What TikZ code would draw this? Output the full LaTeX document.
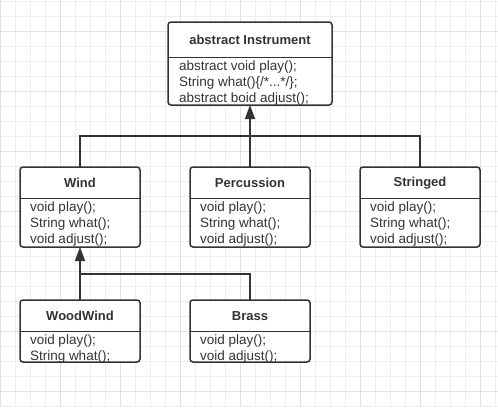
\documentclass[tikz,border=0pt]{standalone}
\usepackage{fontspec}
\setmainfont{Liberation Sans}
\usetikzlibrary{positioning,arrows.meta}
\definecolor{ink}{HTML}{333333}
\definecolor{gridminor}{HTML}{EEEEEE}
\definecolor{gridmajor}{HTML}{E2E2E2}

\begin{document}
\begin{tikzpicture}[x=1pt,y=-1pt,
  box/.style={draw=ink, line width=1.5pt, rounded corners=3pt, outer sep=0pt, fill=white},
  title/.style={font=\bfseries\fontsize{13}{16}\selectfont, text=ink, inner sep=0pt, minimum height=31pt},
  members/.style={font=\fontsize{13.5}{16}\selectfont, text=ink, align=left, inner sep=0pt},
  link/.style={draw=ink, line width=1.5pt},
  extends/.style={link, -{Triangle[length=14pt, width=10pt]}}]
\useasboundingbox (0,0) rectangle (498,407);
\fill[white] (0,0) rectangle (498,407);
% background grid
\foreach \x in {0.5,15.5,...,498} \draw[gridminor, line width=0.8pt] (\x,0) -- (\x,407);
\foreach \y in {1,16,...,407} \draw[gridminor, line width=0.8pt] (0,\y) -- (498,\y);
\foreach \x in {0.5,60.5,...,498} \draw[gridmajor, line width=0.8pt] (\x,0) -- (\x,407);
\foreach \y in {31,91,...,407} \draw[gridmajor, line width=0.8pt] (0,\y) -- (498,\y);

% classes
\node[box, minimum width=164pt, minimum height=83pt] (instr) at (250,63.5) {};
\node[title, minimum width=164pt, minimum height=35pt, below=0pt of instr.north] (instr-t) {abstract Instrument};
\node[members, below right=3pt and 11pt of instr-t.south west] (instr-m)
  {abstract void play();\\String what()\{/*...*/\};\\abstract boid adjust();};

\node[box, minimum width=120pt, minimum height=80pt] (wind) at (80,207) {};
\node[title, minimum width=120pt, below=0pt of wind.north] (wind-t) {Wind};
\node[members, below right=3pt and 10pt of wind-t.south west] (wind-m)
  {void play();\\String what();\\void adjust();};

\node[box, minimum width=120pt, minimum height=80pt] (perc) at (250,207) {};
\node[title, minimum width=120pt, below=0pt of perc.north] (perc-t) {Percussion};
\node[members, below right=3pt and 10pt of perc-t.south west] (perc-m)
  {void play();\\String what();\\void adjust();};

\node[box, minimum width=120pt, minimum height=80pt] (string) at (420,207) {};
\node[title, minimum width=120pt, below=0pt of string.north] (string-t) {Stringed};
\node[members, below right=3pt and 10pt of string-t.south west] (string-m)
  {void play();\\String what();\\void adjust();};

\node[box, minimum width=120pt, minimum height=62pt] (wood) at (80,331) {};
\node[title, minimum width=120pt, below=0pt of wood.north] (wood-t) {WoodWind};
\node[members, below right=3pt and 10pt of wood-t.south west] (wood-m)
  {void play();\\String what();};

\node[box, minimum width=120pt, minimum height=62pt] (brass) at (250,331) {};
\node[title, minimum width=120pt, below=0pt of brass.north] (brass-t) {Brass};
\node[members, below right=3pt and 10pt of brass-t.south west] (brass-m)
  {void play();\\void adjust();};

% dividers
\draw[link] (instr.west |- instr-t.south) -- (instr.east |- instr-t.south);
\draw[link] (wind.west |- wind-t.south) -- (wind.east |- wind-t.south);
\draw[link] (perc.west |- perc-t.south) -- (perc.east |- perc-t.south);
\draw[link] (string.west |- string-t.south) -- (string.east |- string-t.south);
\draw[link] (wood.west |- wood-t.south) -- (wood.east |- wood-t.south);
\draw[link] (brass.west |- brass-t.south) -- (brass.east |- brass-t.south);

% inheritance
\coordinate (top-bus) at (250,136);
\coordinate (low-bus) at (80,274);
\draw[link] (wind.north) |- (top-bus) -| (string.north);
\draw[link] (perc.north) -- (top-bus);
\draw[extends] (top-bus) -- (instr.south);
\draw[link] (brass.north) |- (low-bus);
\draw[extends] (wood.north) -- (wind.south);
\end{tikzpicture}
\end{document}
